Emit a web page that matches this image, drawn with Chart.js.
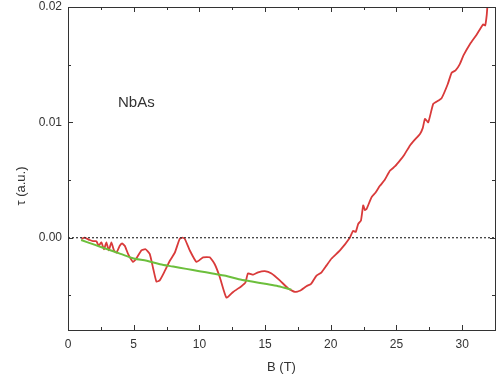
<!DOCTYPE html>
<html>
<head>
<meta charset="utf-8">
<script src="https://cdn.jsdelivr.net/npm/chart.js@4.4.1/dist/chart.umd.min.js"></script>
<style>
  html, body { margin: 0; padding: 0; background: #fff; }
  #wrap { width: 498px; height: 383px; }
</style>
</head>
<body>
<div id="wrap"><canvas id="tauChart" width="498" height="383"></canvas></div>
<script>
// measured torque (red) vs field
const redB = [1.02, 1.27, 1.65, 1.9, 2.16, 2.34, 2.54, 2.74, 2.92, 3.1, 3.3, 3.5, 3.69, 3.94, 4.11, 4.32,
  4.57, 4.95, 5.2, 5.59, 5.9, 6.22, 6.47, 6.73, 6.98, 7.36, 7.75, 8.13, 8.5, 8.7, 8.89, 9.27, 9.78,
  10.28, 10.79, 11.17, 11.55, 12.06, 12.57, 13.2, 13.5, 13.7, 14.1, 14.47, 14.98, 15.49, 16.12, 16.76,
  17.27, 17.65, 18.15, 18.5, 18.9, 19.3, 19.68, 20.06, 20.7, 21.45, 21.7, 21.9, 22.09, 22.3, 22.47,
  22.6, 22.73, 23.1, 23.4, 23.74, 24.1, 24.5, 24.9, 25.27, 25.6, 26.03, 26.4, 26.79, 27.0, 27.17,
  27.42, 27.8, 28.2, 28.44, 28.9, 29.2, 29.5, 29.8, 30.1, 30.6, 31.1, 31.6, 31.75, 31.87, 31.95];
const redTau = [-0.0001, 0.0000, -0.0002, -0.0003, -0.0003, -0.0007, -0.0004, -0.0010, -0.0004, -0.0011,
  -0.0004, -0.0011, -0.0013, -0.0007, -0.0005, -0.0007, -0.0014, -0.0021, -0.0018, -0.0011, -0.0010,
  -0.0014, -0.0026, -0.0038, -0.0037, -0.0029, -0.0020, -0.0013, -0.0001, 0.0000, -0.0001, -0.0011,
  -0.0021, -0.0017, -0.0017, -0.0023, -0.0034, -0.0052, -0.0047, -0.0042, -0.0039, -0.0031, -0.0032,
  -0.0030, -0.0029, -0.0031, -0.0037, -0.0044, -0.0047, -0.0046, -0.0042, -0.0040, -0.0033, -0.0030,
  -0.0024, -0.0018, -0.0011, 0.0000, 0.0006, 0.0005, 0.0012, 0.0015, 0.0028, 0.0024, 0.0025, 0.0035,
  0.0039, 0.0045, 0.0050, 0.0058, 0.0062, 0.0067, 0.0072, 0.0080, 0.0085, 0.0090, 0.0095, 0.0103,
  0.0100, 0.0116, 0.0119, 0.0121, 0.0133, 0.0143, 0.0145, 0.0150, 0.0158, 0.0168, 0.0176, 0.0185,
  0.0184, 0.0193, 0.0205];

// background fit (green)
const greenB = [1, 2, 3, 4, 5, 6, 7, 8, 9, 10, 11, 12, 13, 14, 15, 16, 17];
const greenTau = [-0.0002, -0.0006, -0.0010, -0.0014, -0.0018, -0.0020, -0.0023, -0.0025, -0.0027,
  -0.0029, -0.0031, -0.0033, -0.0036, -0.0038, -0.0040, -0.0042, -0.0045];

// zero reference line
const zeroB = [0, 32.5];
const zeroTau = [0, 0];

// axis ticks
const xMajor = [0, 5, 10, 15, 20, 25, 30];
const xMinor = [2.5, 7.5, 12.5, 17.5, 22.5, 27.5, 32.5];
const yMajor = [0.02, 0.01, 0.00];
const yMinor = [0.015, 0.005, -0.005];

const toPts = (xs, ys) => xs.map((x, i) => ({ x: x, y: ys[i] }));
const FONT = "'Liberation Sans', Arial, sans-serif";

// marco, ticks hacia dentro y textos sueltos
const framePlugin = {
  id: 'frame',
  afterDraw(chart) {
    const c = chart.ctx;
    const a = chart.chartArea;
    const xs = chart.scales.x, ys = chart.scales.y;
    c.save();
    c.strokeStyle = '#333';
    c.lineWidth = 1;
    c.strokeRect(Math.round(a.left) + 0.5, Math.round(a.top) + 0.5,
      Math.round(a.right - a.left), Math.round(a.bottom - a.top));
    c.beginPath();
    const tickX = (v, len) => {
      const p = Math.round(xs.getPixelForValue(v)) + 0.5;
      c.moveTo(p, a.bottom); c.lineTo(p, a.bottom - len);
      c.moveTo(p, a.top); c.lineTo(p, a.top + len);
    };
    const tickY = (v, len) => {
      const p = Math.round(ys.getPixelForValue(v)) + 0.5;
      c.moveTo(a.left, p); c.lineTo(a.left + len, p);
      c.moveTo(a.right, p); c.lineTo(a.right - len, p);
    };
    xMajor.forEach(v => tickX(v, 5));
    xMinor.forEach(v => tickX(v, 3));
    yMajor.forEach(v => tickY(v, 5));
    yMinor.forEach(v => tickY(v, 3));
    c.stroke();

    c.fillStyle = '#333';
    c.font = '15px ' + FONT;
    c.textAlign = 'left';
    c.textBaseline = 'middle';
    c.fillText('NbAs', 118, 103);

    c.translate(21, 186);
    c.rotate(-Math.PI / 2);
    c.textAlign = 'center';
    c.font = '13px ' + FONT;
    c.fillText('τ (a.u.)', 0, 0);
    c.restore();
  }
};

new Chart(document.getElementById('tauChart'), {
  type: 'line',
  data: {
    datasets: [
      {
        data: toPts(zeroB, zeroTau),
        borderColor: '#333',
        borderWidth: 1.2,
        borderDash: [2, 2],
        pointRadius: 0
      },
      {
        data: toPts(greenB, greenTau),
        borderColor: '#6cbf3c',
        borderWidth: 2,
        tension: 0.3,
        pointRadius: 0
      },
      {
        data: toPts(redB, redTau),
        borderColor: '#d93a3a',
        borderWidth: 1.8,
        tension: 0.15,
        pointRadius: 0
      }
    ]
  },
  options: {
    responsive: false,
    animation: false,
    layout: { autoPadding: false, padding: { top: 7, right: 3, left: 0, bottom: 0 } },
    plugins: { legend: { display: false }, tooltip: { enabled: false } },
    scales: {
      x: {
        type: 'linear',
        min: 0,
        max: 32.5,
        grid: { display: false, drawTicks: false },
        border: { display: false },
        ticks: {
          stepSize: 5,
          padding: 7,
          autoSkip: false,
          includeBounds: false,
          color: '#333',
          font: { size: 12, family: FONT },
          maxRotation: 0,
          callback: v => Math.round(v)
        },
        title: {
          display: true,
          text: 'B (T)',
          color: '#333',
          font: { size: 13, family: FONT },
          padding: { top: 4, bottom: 8 }
        },
        afterFit: s => { s.height = 53; s.paddingLeft = 0; s.paddingRight = 0; }
      },
      y: {
        min: -0.008,
        max: 0.02,
        grid: { display: false, drawTicks: false },
        border: { display: false },
        ticks: {
          stepSize: 0.005,
          padding: 6,
          color: '#333',
          font: { size: 12, family: FONT },
          callback: v => {
            const k = v / 0.01;
            return (v >= -1e-9 && Math.abs(k - Math.round(k)) < 1e-6) ? Math.abs(v).toFixed(2) : '';
          }
        },
        afterFit: s => { s.width = 68; s.paddingTop = 0; s.paddingBottom = 0; }
      }
    }
  },
  plugins: [framePlugin]
});
</script>
</body>
</html>
